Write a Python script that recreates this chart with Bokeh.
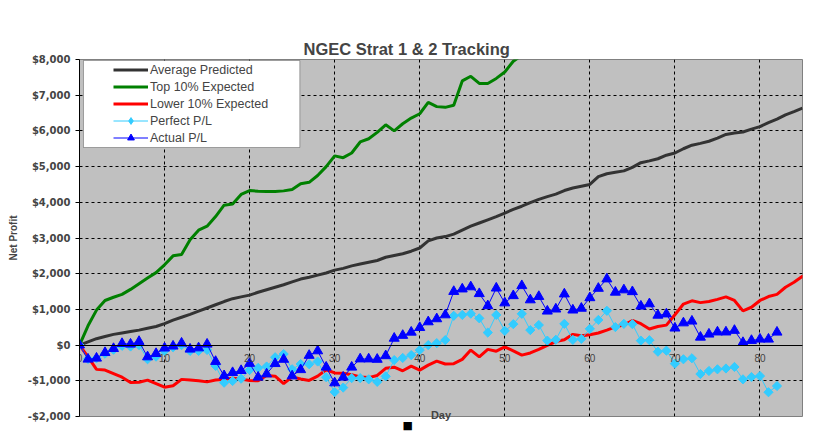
from bokeh.plotting import figure
from bokeh.models import Range1d, LinearAxis, FixedTicker, Legend, LegendItem, BoxAnnotation, Title
from bokeh.embed import file_html
from bokeh.resources import INLINE
import math

# ---------------- data ----------------
avg_days = list(range(86))
avg_predicted = [0, 90, 180, 240, 300, 340, 380, 420, 470, 520,
                 600, 700, 780, 860, 950, 1040, 1130, 1220, 1300, 1350,
                 1400, 1480, 1550, 1620, 1690, 1770, 1850, 1900, 1960, 2020,
                 2100, 2150, 2220, 2270, 2320, 2370, 2460, 2510, 2560, 2630,
                 2720, 2920, 3000, 3040, 3110, 3220, 3330, 3420, 3510, 3600,
                 3700, 3800, 3890, 3990, 4080, 4160, 4230, 4330, 4400, 4450,
                 4500, 4720, 4800, 4840, 4880, 4980, 5110, 5160, 5220, 5320,
                 5380, 5500, 5600, 5650, 5710, 5800, 5900, 5940, 5970, 6050,
                 6120, 6230, 6330, 6450, 6540, 6640]

top_days = list(range(55))
top_10 = [0, 540, 980, 1250, 1340, 1420, 1560, 1720, 1880, 2030,
          2250, 2500, 2540, 2950, 3220, 3330, 3600, 3920, 3950, 4220,
          4330, 4310, 4300, 4300, 4320, 4360, 4520, 4560, 4750, 5000,
          5300, 5250, 5380, 5690, 5780, 5960, 6170, 6000, 6200, 6360,
          6480, 6800, 6680, 6660, 6720, 7400, 7530, 7330, 7330, 7470,
          7650, 7950, 8120, 8300, 8450]

low_days = list(range(87))
lower_10 = [0, -330, -680, -700, -800, -900, -1050, -1040, -980, -1080,
            -1180, -1140, -960, -980, -1000, -1030, -980, -960, -930, -950,
            -990, -1000, -850, -870, -1080, -890, -950, -990, -870, -690,
            -780, -790, -830, -890, -910, -850, -650, -620, -720, -590,
            -700, -560, -450, -530, -520, -400, -140, -330, -120, -170,
            -50, -160, -280, -220, -120, -10, 100, 150, 300, 260,
            290, 340, 420, 510, 560, 690, 600, 450, 520, 560,
            850, 1150, 1240, 1190, 1220, 1280, 1350, 1250, 960, 1060,
            1250, 1360, 1420, 1620, 1760, 1930, 1790]

pl_days = list(range(83))
perfect_pl = [0, -390, -370, -240, -130, -20, -40, 0, -396, -323,
              -163, -60, 0, -163, -163, -135, -584, -1053, -1006, -941,
              -697, -640, -600, -340, -250, -677, -530, -537, -460, -900,
              -1315, -1190, -925, -925, -959, -1030, -875, -420, -360, -280,
              -140, 0, 55, 140, 820, 845, 880, 750, 351, 845,
              399, 587, 877, 420, 563, 125, 150, 595, 146, 175,
              455, 705, 961, 505, 595, 587, 125, 137, -185, -155,
              -520, -397, -369, -810, -725, -678, -655, -612, -959, -894,
              -866, -1320, -1146]

actual_pl = [0, -396, -368, -211, -98, 42, 25, 100, -331, -239,
             -85, -30, 53, -115, -80, 25, -460, -860, -772, -715,
             -515, -900, -810, -520, -400, -865, -690, -290, -163, -620,
             -1060, -900, -620, -390, -390, -400, -300, 190, 270, 360,
             490, 650, 735, 845, 1500, 1570, 1630, 1440, 1100, 1595,
             1180, 1382, 1663, 1265, 1360, 950, 1008, 1430, 980, 1030,
             1325, 1588, 1851, 1480, 1545, 1494, 1090, 1155, 835, 870,
             475, 620, 670, 220, 306, 365, 365, 410, 70, 128,
             165, 165, 361]

x_ticks = [0, 10, 20, 30, 40, 50, 60, 70, 80]
x_grid = [10, 20, 30, 40, 50, 60, 70, 80]
y_ticks = [-2000, -1000, 0, 1000, 2000, 3000, 4000, 5000, 6000, 7000, 8000]
y_tick_labels = ["-$2,000", "-$1,000", "$0", "$1,000", "$2,000", "$3,000",
                 "$4,000", "$5,000", "$6,000", "$7,000", "$8,000"]
y_grid = [-1000, 0, 1000, 2000, 3000, 4000, 5000, 6000, 7000]

# ---------------- figure ----------------
p = figure(width=807, height=438,
           x_range=Range1d(0, 85), y_range=Range1d(-2000, 8000),
           output_backend="svg", toolbar_location=None,
           min_border_left=79, min_border_right=5, min_border_top=59, min_border_bottom=22,
           background_fill_color="#C0C0C0", border_fill_color="white",
           outline_line_color="#808080", outline_line_width=1)
p.title.text = ""

# main axes (taken before any extra axis is added)
xa = p.below[0]
ya = p.left[0]

# y axis
ya.ticker = FixedTicker(ticks=y_ticks)
ya.major_label_overrides = {t: l for t, l in zip(y_ticks, y_tick_labels)}
ya.major_label_text_font = "DejaVu Sans"
ya.major_label_text_font_style = "bold"
ya.major_label_text_font_size = "10px"
ya.major_label_standoff = 5
ya.major_tick_out = 4
ya.major_tick_in = 0
ya.minor_tick_line_color = None
ya.axis_line_color = "black"
ya.major_tick_line_color = "black"
ya.axis_label = "Net Profit"
ya.axis_label_text_font = "Liberation Sans"
ya.axis_label_text_font_style = "bold"
ya.axis_label_text_font_size = "10px"
ya.axis_label_standoff = 6

# bottom axis: only the title "Day"
xa.ticker = FixedTicker(ticks=[])
xa.axis_line_color = None
xa.major_tick_line_color = None
xa.minor_tick_line_color = None
xa.major_tick_out = 0
xa.major_label_standoff = 0
xa.axis_label = "Day"
xa.axis_label_text_font = "Liberation Sans"
xa.axis_label_text_font_style = "bold"
xa.axis_label_text_font_size = "11px"
xa.axis_label_standoff = -8

# empty spacer axis between plot area and chart title (no ticks, no labels)
spacer = LinearAxis(ticker=FixedTicker(ticks=[]), axis_line_color=None,
                    major_tick_line_color="white", minor_tick_line_color=None,
                    major_tick_out=28, major_tick_in=0, minor_tick_out=0,
                    major_label_standoff=0)
p.add_layout(spacer, "above")
p.add_layout(Title(text="NGEC Strat 1 & 2 Tracking", align="left", offset=224,
                   vertical_align="bottom", standoff=4,
                   text_font="Liberation Sans", text_font_style="bold",
                   text_font_size="16.5px"), "above")

# small black key below the axis title
p.add_layout(Title(text="\u25a0", align="left", offset=323, standoff=-10,
                   vertical_align="top",
                   text_font="DejaVu Sans", text_font_size="11px",
                   text_color="black"), "below")

# x axis drawn at y = 0
x0 = LinearAxis(fixed_location=0, ticker=FixedTicker(ticks=x_ticks))
x0.axis_line_color = "black"
x0.axis_line_width = 1
x0.major_tick_line_color = None
x0.minor_tick_line_color = None
x0.major_label_text_font = "Liberation Sans"
x0.major_label_text_font_size = "10px"
x0.major_label_standoff = 3
p.add_layout(x0, "below")

# grids
p.xgrid[0].ticker = FixedTicker(ticks=x_grid)
p.ygrid[0].ticker = FixedTicker(ticks=y_grid)
for g in (p.xgrid[0], p.ygrid[0]):
    g.grid_line_color = "black"
    g.grid_line_dash = "3 3"
    g.grid_line_width = 1

# series
r_avg = p.line(avg_days, avg_predicted, line_color="#333333", line_width=3)
r_top = p.line(top_days, top_10, line_color="#008000", line_width=3)
r_low = p.line(low_days, lower_10, line_color="#FF0000", line_width=3)
r_pl = p.line(pl_days, perfect_pl, line_color="#33CCFF", line_width=1)
r_pm = p.scatter(pl_days, perfect_pl, marker="square", angle=math.pi / 4, size=6.5,
                 fill_color="#33CCFF", line_color="#33CCFF")
r_al = p.line(pl_days, actual_pl, line_color="#0000FF", line_width=1)
r_am = p.scatter(pl_days, actual_pl, marker="triangle", size=10,
                 fill_color="#0000FF", line_color="#0000FF")
# legend key (diamond) for Perfect P/L, not drawn in the plot itself
r_pkey = p.scatter(pl_days, perfect_pl, marker="diamond", size=10,
                   fill_color="#33CCFF", line_color="#33CCFF", visible=False)

# legend box + legend
box = BoxAnnotation(left=0.47, right=25.9, top=7972, bottom=5535,
                    fill_color="white", fill_alpha=1.0, line_color="black", line_width=1)
p.add_layout(box)

legend = Legend(items=[
    LegendItem(label="Average Predicted", renderers=[r_avg]),
    LegendItem(label="Top 10% Expected", renderers=[r_top]),
    LegendItem(label="Lower 10% Expected", renderers=[r_low]),
    LegendItem(label="Perfect P/L", renderers=[r_pl, r_pkey]),
    LegendItem(label="Actual P/L", renderers=[r_al, r_am]),
], location=(34, 270), padding=0, spacing=0, margin=0,
    glyph_width=35, glyph_height=17, label_height=17, label_standoff=2,
    background_fill_alpha=0, border_line_color=None,
    inactive_fill_alpha=0.0, click_policy="none",
    label_text_font="Liberation Sans", label_text_font_size="12.5px")
p.add_layout(legend)

open("out.html", "w").write(file_html(p, INLINE))
